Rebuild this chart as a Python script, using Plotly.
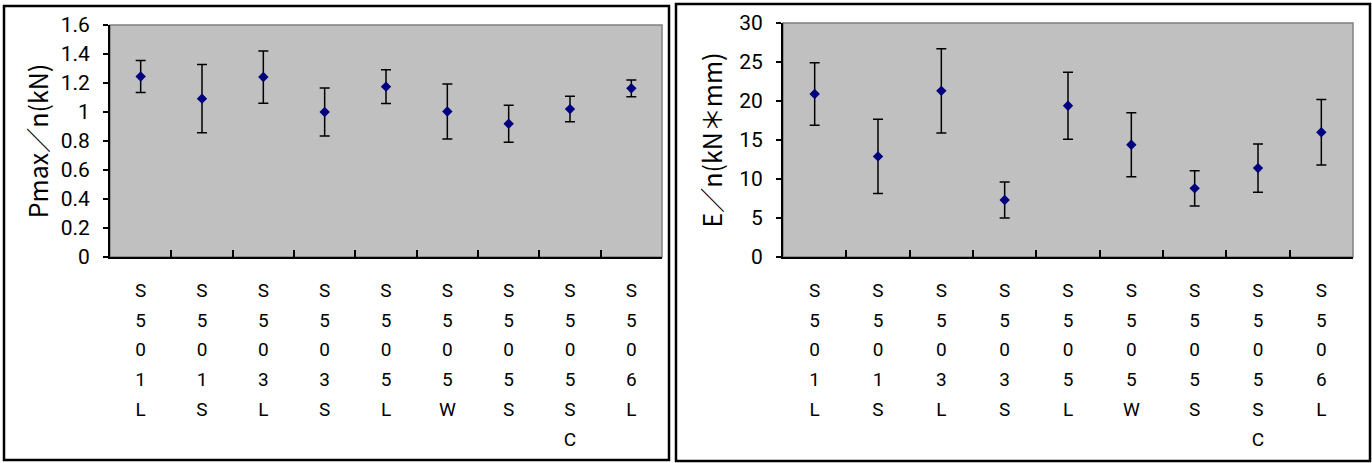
import plotly.graph_objects as go

categories = ["S501L", "S501S", "S503L", "S503S", "S505L", "S505W", "S505S", "S505SC", "S506L"]

pmax_mean = [1.245, 1.092, 1.241, 1.000, 1.175, 1.003, 0.919, 1.020, 1.163]
pmax_err = [0.110, 0.235, 0.180, 0.165, 0.117, 0.190, 0.127, 0.088, 0.058]

energy_mean = [20.9, 12.9, 21.3, 7.3, 19.4, 14.4, 8.8, 11.4, 16.0]
energy_err = [4.0, 4.75, 5.4, 2.3, 4.3, 4.1, 2.27, 3.1, 4.2]

left_ticks = [0, 0.2, 0.4, 0.6, 0.8, 1, 1.2, 1.4, 1.6]
left_ticktext = ["0", "0.2", "0.4", "0.6", "0.8", "1", "1.2", "1.4", "1.6"]
right_ticks = [0, 5, 10, 15, 20, 25, 30]

TICKF = "Roboto, Liberation Sans, sans-serif"
JP = "Noto Sans CJK JP, sans-serif"


def vertical_label(s):
    return "<br>".join('<span style="font-size:19px">%s</span>' % c for c in s)


cat_text = [vertical_label(c) for c in categories]

fig = go.Figure()

fig.add_trace(go.Scatter(
    x=categories, y=pmax_mean, mode="markers",
    marker=dict(symbol="diamond", size=8, color="#000080"),
    error_y=dict(type="data", array=pmax_err, color="black", thickness=1.5, width=5),
    xaxis="x", yaxis="y", showlegend=False,
))
fig.add_trace(go.Scatter(
    x=categories, y=energy_mean, mode="markers",
    marker=dict(symbol="diamond", size=8, color="#000080"),
    error_y=dict(type="data", array=energy_err, color="black", thickness=1.5, width=5),
    xaxis="x2", yaxis="y2", showlegend=False,
))

W, H = 1372, 463
lx0, lx1, ly0, ly1 = 110, 662, 25, 257
rx0, rx1, ry0, ry1 = 783, 1353, 23, 257

xcommon = dict(
    type="category", categoryorder="array", categoryarray=categories,
    tickmode="array", tickvals=categories, ticktext=cat_text,
    tickson="boundaries", ticks="inside", ticklen=7, tickcolor="black", tickwidth=1.5,
    showline=True, linecolor="black", linewidth=2, showgrid=False, zeroline=False,
    tickfont=dict(family=TICKF, size=23, color="black"),
    ticklabelstandoff=10,
    range=[-0.5, 8.5], fixedrange=True, automargin=False,
)
ycommon = dict(
    showline=True, linecolor="black", linewidth=2, showgrid=False, zeroline=False,
    ticks="outside", ticklen=5, tickcolor="black", tickwidth=1.5,
    tickfont=dict(family=TICKF, size=21, color="black"),
    ticklabelstandoff=9, automargin=False, fixedrange=True,
)

fig.update_layout(
    width=W, height=H,
    margin=dict(l=0, r=0, t=0, b=0),
    paper_bgcolor="white",
    plot_bgcolor="#C0C0C0",
    xaxis=dict(domain=[lx0 / W, lx1 / W], anchor="y", **xcommon),
    yaxis=dict(domain=[1 - ly1 / H, 1 - ly0 / H], anchor="x", range=[0, 1.6],
               tickvals=left_ticks, ticktext=left_ticktext,
               title=dict(text="Pmax／n(kN)", font=dict(family=JP, size=25, color="black"), standoff=5),
               **ycommon),
    xaxis2=dict(domain=[rx0 / W, rx1 / W], anchor="y2", **xcommon),
    yaxis2=dict(domain=[1 - ry1 / H, 1 - ry0 / H], anchor="x2", range=[0, 30],
                tickvals=right_ticks,
                title=dict(text="E／n(kN＊mm)", font=dict(family=JP, size=25, color="black"), standoff=9),
                **ycommon),
    shapes=[
        dict(type="rect", xref="x domain", yref="y domain", x0=0, x1=1, y0=0, y1=1,
             line=dict(color="#808080", width=1.5), layer="below"),
        dict(type="rect", xref="x2 domain", yref="y2 domain", x0=0, x1=1, y0=0, y1=1,
             line=dict(color="#808080", width=1.5), layer="below"),
        dict(type="rect", xref="paper", yref="paper",
             x0=4 / W, x1=669 / W, y0=1 - 460 / H, y1=1 - 6 / H,
             line=dict(color="black", width=2.5)),
        dict(type="rect", xref="paper", yref="paper",
             x0=676 / W, x1=1370 / W, y0=1 - 461 / H, y1=1 - 4 / H,
             line=dict(color="black", width=2.5)),
    ],
)

fig.write_html(
    "out.html",
    config={"displayModeBar": False},
    post_script="document.body.style.margin='0';document.body.style.padding='0';",
)
